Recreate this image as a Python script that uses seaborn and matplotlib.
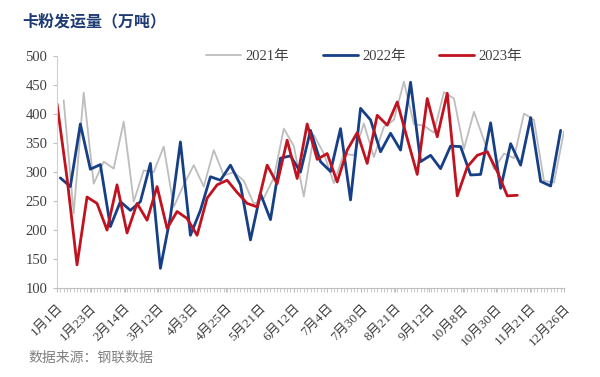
import numpy as np
import pandas as pd
import matplotlib.pyplot as plt
from matplotlib.lines import Line2D
import seaborn as sns

sns.set_style("white")
plt.rcParams['font.family'] = ['Liberation Serif', 'Noto Sans CJK SC', 'DejaVu Sans']

# weekly shipments, 10k tonnes
years = ["2021年", "2022年", "2023年"]
v2021 = [424, 229, 437, 280, 318, 306, 387, 249, 303, 300, 344, 240, 278, 312, 275, 338,
         294, 300, 285, 245, 255, 290, 375, 345, 258, 364, 332, 281, 332, 329, 384, 326,
         378, 390, 456, 383, 380, 368, 438, 427, 340, 404, 355, 305, 332, 324, 401, 390,
         285, 282, 370]
v2022 = [290, 275, 383, 305, 313, 206, 249, 234, 249, 315, 134, 223, 352, 191, 234, 292,
         286, 312, 278, 183, 263, 218, 324, 328, 300, 372, 318, 301, 375, 252, 410, 390,
         335, 367, 338, 455, 318, 329, 306, 345, 344, 295, 296, 385, 272, 349, 312, 394,
         284, 276, 372]
v2023 = [418, 290, 140, 257, 246, 200, 278, 195, 246, 217, 275, 203, 232, 220, 191, 255,
         278, 286, 265, 246, 240, 312, 280, 355, 289, 383, 322, 332, 283, 338, 368, 315,
         398, 381, 421, 358, 296, 427, 361, 436, 259, 309, 329, 335, 301, 259, 260]
tick_labels = ["1月1日", "1月23日", "2月14日", "3月12日", "4月3日", "4月25日", "5月21日",
               "6月12日", "7月4日", "7月30日", "8月21日", "9月12日", "10月8日", "10月30日",
               "11月21日", "12月26日"]

series = {"2021年": v2021, "2022年": v2022, "2023年": v2023}
# each week holds three date slots on the category axis
slot = {"2023年": 0, "2022年": 1, "2021年": 2}
colors = {"2021年": "#bdbdbd", "2022年": "#173f86", "2023年": "#c1121f"}
widths = {"2021年": 1.3, "2022年": 2.0, "2023年": 2.0}

frames = []
for y in years:
    vals = series[y]
    frames.append(pd.DataFrame({"pos": np.arange(len(vals)) * 3 + slot[y],
                                "value": vals, "year": y}))
df = pd.concat(frames, ignore_index=True)

fig = plt.figure(figsize=(6, 3.77), dpi=100)
ax = fig.add_axes([0.095, 0.236, 0.845, 0.615])

for y in years:
    sns.lineplot(data=df[df["year"] == y], x="pos", y="value", color=colors[y],
                 linewidth=widths[y], ax=ax, legend=False)

xmax = 152
ax.set_xlim(0, xmax)
ax.set_ylim(100, 500)
ax.set_yticks(np.arange(100, 501, 50))
ax.set_xticks(np.linspace(0, xmax, len(tick_labels)))
ax.set_xticklabels(tick_labels, rotation=45, ha="right", rotation_mode="anchor",
                   fontsize=9.5, color="#404040")
ax.set_xticks(np.arange(0, xmax + 1), minor=True)
ax.tick_params(axis="x", which="both", length=3, color="#bfbfbf", pad=7, bottom=True)
ax.tick_params(axis="y", length=3, color="#bfbfbf", labelsize=10.5, labelcolor="#404040",
               left=True, pad=4)
ax.set_xlabel("")
ax.set_ylabel("")
for s in ["top", "right"]:
    ax.spines[s].set_visible(False)
ax.spines["left"].set_color("#d0d0d0")
ax.spines["bottom"].set_color("#bfbfbf")

handles = [Line2D([0], [0], color=colors[y], lw=widths[y]) for y in years]
fig.legend(handles, years, loc="center", bbox_to_anchor=(0.607, 0.85), ncol=3,
           frameon=False, fontsize=10.5, handlelength=2.4, handletextpad=0.3,
           columnspacing=2.3, labelcolor="#404040")

fig.text(0.037, 0.94, "卡粉发运量（万吨）", fontsize=11.5, fontweight="bold",
         color="#1f3b73", va="center")
fig.text(0.047, 0.05, "数据来源：钢联数据", fontsize=10, color="#808080", va="center")

fig.savefig("out.png", dpi=100)
